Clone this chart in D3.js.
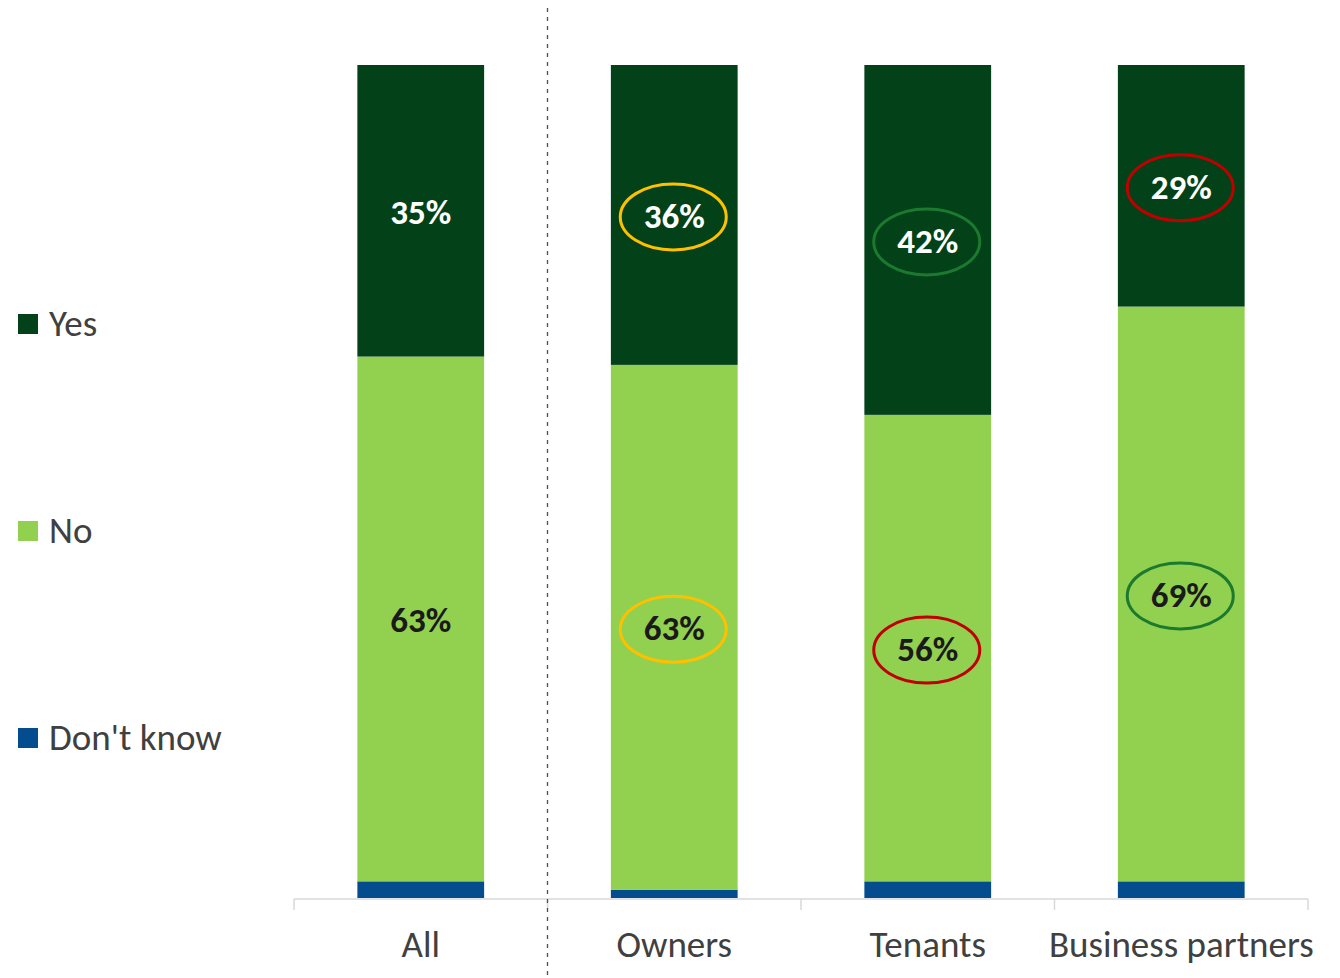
<!DOCTYPE html>
<html>
<head>
<meta charset="utf-8">
<script src="https://cdn.jsdelivr.net/npm/d3@7"></script>
<style>
  html, body { margin: 0; padding: 0; background: #fff; }
  svg { display: block; font-family: Carlito, Calibri, Lato, "Noto Sans", sans-serif; }
</style>
</head>
<body>
<svg id="chart" width="1340" height="978"></svg>
<script>
// Survey answers per group, in percent
const categories = ["All", "Owners", "Tenants", "Business partners"];
const yesValues = [35, 36, 42, 29];
const noValues = [63, 63, 56, 69];
const dontKnowValues = [2, 1, 2, 2];
const seriesNames = ["Yes", "No", "Don't know"];
// Highlight ring colour per group (null = no ring)
const yesHighlight = [null, "#FFC000", "#1B7A2E", "#C00000"];
const noHighlight = [null, "#FFC000", "#C00000", "#1B7A2E"];

const colors = { "Yes": "#034118", "No": "#92D050", "Don't know": "#034D8E" };

const svg = d3.select("#chart");
const x = d3.scaleBand().domain(categories).range([294, 1308]).paddingInner(0.5).paddingOuter(0.25);
const y = d3.scaleLinear().domain([0, 100]).range([898, 65]);

const rows = categories.map((c, i) => ({
  cat: c, "Yes": yesValues[i], "No": noValues[i], "Don't know": dontKnowValues[i],
  yesRing: yesHighlight[i], noRing: noHighlight[i]
}));
const stack = d3.stack().keys(["Don't know", "No", "Yes"]);
const layers = stack(rows);

// Stacked bars
svg.append("g").selectAll("g").data(layers).join("g")
  .attr("fill", d => colors[d.key])
  .selectAll("rect").data(d => d).join("rect")
  .attr("x", d => x(d.data.cat))
  .attr("width", x.bandwidth())
  .attr("y", d => y(d[1]))
  .attr("height", d => y(d[0]) - y(d[1]));

// Category axis: baseline with ticks at band boundaries
const step = x.step();
const axisG = svg.append("g");
axisG.append("line")
  .attr("x1", x.range()[0]).attr("x2", x.range()[1])
  .attr("y1", y(0) + 1).attr("y2", y(0) + 1)
  .attr("stroke", "#D9D9D9").attr("stroke-width", 1.5);
const boundaries = categories.map(c => x(c) - step * 0.25).concat([x.range()[1]]);
axisG.selectAll("line.tick").data(boundaries).join("line")
  .attr("class", "tick")
  .attr("x1", d => d).attr("x2", d => d)
  .attr("y1", y(0) + 1).attr("y2", y(0) + 12)
  .attr("stroke", "#D9D9D9").attr("stroke-width", 1.5);
const labelAxis = d3.axisBottom(x).tickSize(0).tickPadding(0);
const axisLabels = svg.append("g").attr("transform", `translate(0,${y(0)})`).call(labelAxis);
axisLabels.select(".domain").remove();
axisLabels.selectAll("text")
  .attr("y", 59).attr("dy", null)
  .attr("font-size", 37).attr("fill", "#404040")
  .attr("font-family", "Carlito, Calibri, Lato, sans-serif");

// Dashed separator between total and sub-groups
const sepX = x("Owners") - step * 0.25;
svg.append("line")
  .attr("x1", sepX).attr("x2", sepX).attr("y1", 8).attr("y2", 975)
  .attr("stroke", "#4d4d4d").attr("stroke-width", 1.3)
  .attr("stroke-dasharray", "4,5");

// Value labels and highlight rings
const labelG = svg.append("g");
rows.forEach(r => {
  const cx = x(r.cat) + x.bandwidth() / 2;
  const yesMid = (y(100) + y(r["Don't know"] + r["No"])) / 2;
  const noMid = (y(r["Don't know"]) + y(r["Don't know"] + r["No"])) / 2;
  [[r.yesRing, yesMid], [r.noRing, noMid]].forEach(([col, cy]) => {
    if (col) {
      labelG.append("ellipse")
        .attr("cx", cx - 1).attr("cy", cy + 2).attr("rx", 53).attr("ry", 33)
        .attr("fill", "none").attr("stroke", col).attr("stroke-width", 3);
    }
  });
  labelG.append("text")
    .attr("x", cx).attr("y", yesMid + 13)
    .attr("text-anchor", "middle").attr("font-size", 35).attr("font-weight", "bold")
    .attr("fill", "#ffffff").text(r["Yes"] + "%");
  labelG.append("text")
    .attr("x", cx).attr("y", noMid + 13)
    .attr("text-anchor", "middle").attr("font-size", 35).attr("font-weight", "bold")
    .attr("fill", "#1a1a1a").text(r["No"] + "%");
});

// Legend
const legendY = d3.scalePoint().domain(seriesNames).range([324, 738]);
const legend = svg.append("g").selectAll("g").data(seriesNames).join("g")
  .attr("transform", d => `translate(18,${legendY(d)})`);
legend.append("rect")
  .attr("x", 0).attr("y", -10).attr("width", 20).attr("height", 20)
  .attr("fill", d => colors[d]);
legend.append("text")
  .attr("x", 31).attr("y", 12)
  .attr("font-size", 37).attr("fill", "#404040")
  .text(d => d);
</script>
</body>
</html>
